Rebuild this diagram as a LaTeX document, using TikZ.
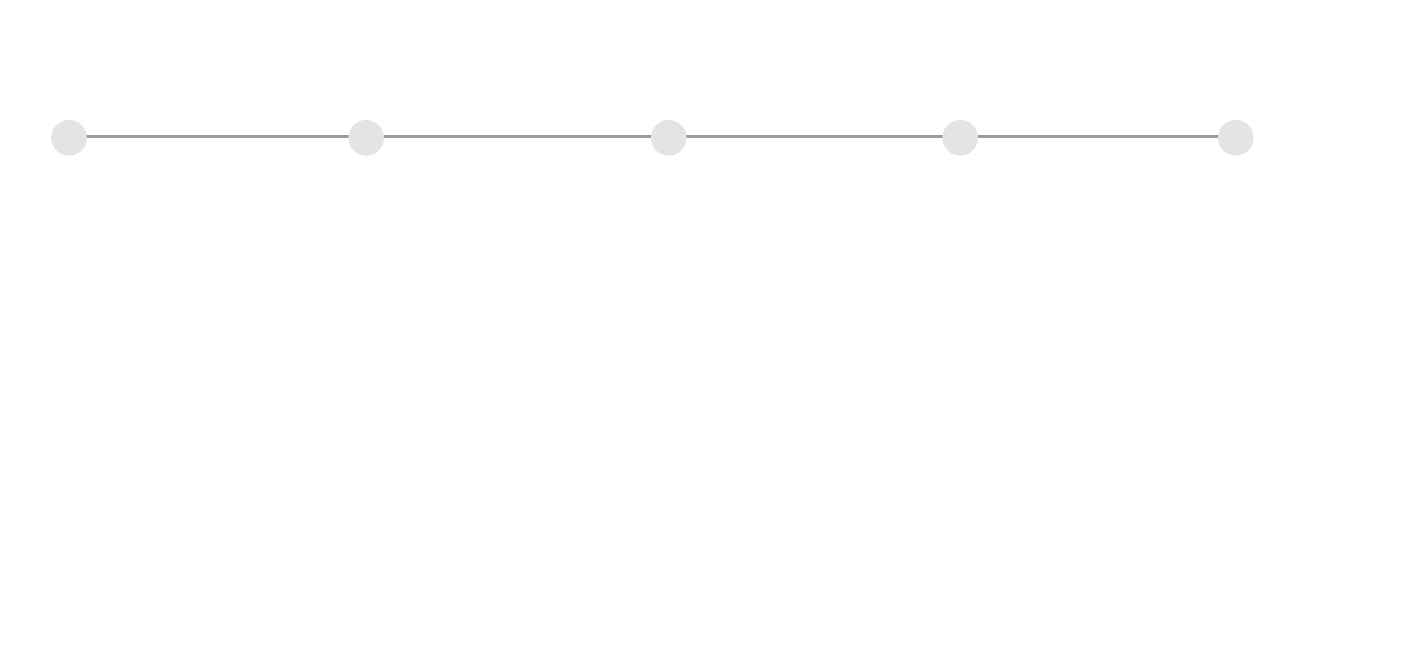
\documentclass[tikz,border=0pt]{standalone}
\usetikzlibrary{backgrounds}
\definecolor{dotfill}{HTML}{E4E4E4}
\definecolor{linkgray}{HTML}{999999}
\tikzset{
  dotnode/.style={circle, fill=dotfill, draw=none, inner sep=0pt, minimum size=35.7pt},
  linkline/.style={draw=linkgray, line width=2.7pt}
}
\begin{document}
\begin{tikzpicture}[x=1pt, y=-1pt]
\useasboundingbox (0,0) rectangle (1410,651);
\node[dotnode] (n1) at (69,137.8) {};
\node[dotnode] (n2) at (366.2,137.8) {};
\node[dotnode] (n3) at (668.8,137.8) {};
\node[dotnode] (n4) at (960.2,137.8) {};
\node[dotnode] (n5) at (1235.8,137.8) {};
\begin{scope}[on background layer]
\foreach \a/\b in {n1/n2, n2/n3, n3/n4, n4/n5}
  \draw[linkline] ([yshift=1.5pt]\a.center) -- ([yshift=1.5pt]\b.center);
\end{scope}
\end{tikzpicture}
\end{document}
